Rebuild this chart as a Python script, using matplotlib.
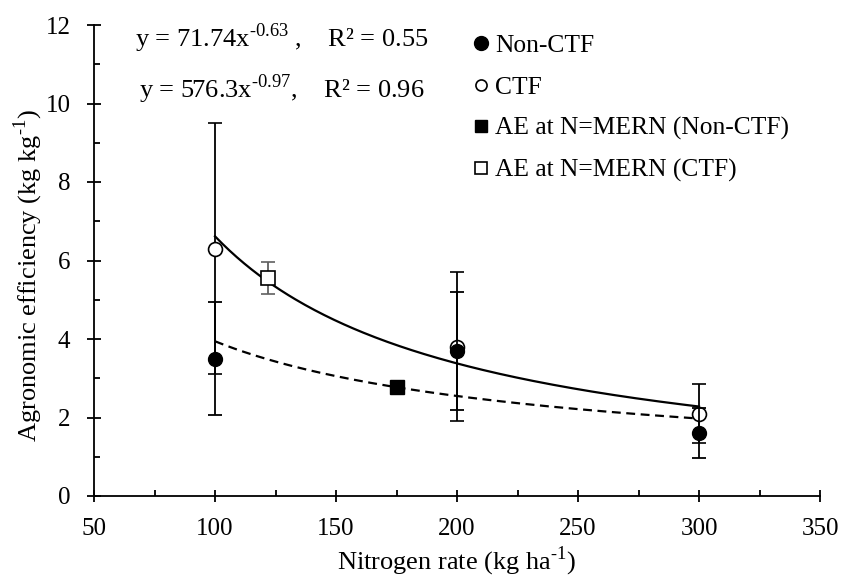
import numpy as np
import matplotlib
matplotlib.use("Agg")
import matplotlib.pyplot as plt
from matplotlib.lines import Line2D

plt.rcParams['font.family'] = ['Liberation Serif', 'DejaVu Serif']
plt.rcParams['mathtext.fontset'] = 'custom'
plt.rcParams['mathtext.rm'] = 'Liberation Serif'

# Data
n_rates = [100, 200, 300]
noncfg_ae = [3.5, 3.7, 1.6]
noncfg_err = [1.43, 1.5, 0.63]
ctf_ae = [6.3, 3.8, 2.1]
ctf_err = [3.2, 1.9, 0.75]
mern_noncfg_x = [175]
mern_noncfg_y = [2.78]
mern_ctf_x = [122]
mern_ctf_y = [5.55]
mern_ctf_err = [0.4]

# Power fit coefficients y = a * x^b
fit_noncfg = (71.74, -0.63)
fit_ctf = (576.3, -0.97)

H = '\u2010'  # hyphen used in superscripts

fig = plt.figure(figsize=(8.42, 5.79), dpi=100)
ax = fig.add_axes([94/842, 1-496/579, (820-94)/842, (496-25)/579])

xs = np.linspace(100, 300, 200)
ax.plot(xs, fit_ctf[0]*xs**fit_ctf[1], color='black', lw=1.6, zorder=2)
ax.plot(xs, fit_noncfg[0]*xs**fit_noncfg[1], color='black', lw=1.6,
        ls=(0, (4, 2.5)), zorder=2)

ax.errorbar(n_rates, ctf_ae, yerr=ctf_err, fmt='o', mfc='white', mec='black',
            mew=1.2, ms=10, ecolor='black', elinewidth=1.3, capsize=5,
            capthick=1.3, zorder=3)
ax.errorbar(n_rates, noncfg_ae, yerr=noncfg_err, fmt='o', mfc='black', mec='black',
            ms=10, ecolor='black', elinewidth=1.3, capsize=5, capthick=1.3, zorder=4)
ax.errorbar(mern_ctf_x, mern_ctf_y, yerr=mern_ctf_err, fmt='s', mfc='white',
            mec='black', mew=1.2, ms=10, ecolor='#606060', elinewidth=1.3,
            capsize=5, capthick=1.3, zorder=5)
ax.plot(mern_noncfg_x, mern_noncfg_y, 's', color='black', ms=9.5, zorder=5)

ax.set_xlim(50, 350)
ax.set_ylim(0, 12)
ax.set_xticks(np.arange(50, 351, 50))
ax.set_yticks(np.arange(0, 13, 2))
ax.set_xticks(np.arange(75, 350, 50), minor=True)
ax.set_yticks(np.arange(1, 12, 2), minor=True)
for s in ['top', 'right']:
    ax.spines[s].set_visible(False)
for s in ['left', 'bottom']:
    ax.spines[s].set_linewidth(1.3)
ax.tick_params(axis='x', which='major', direction='inout', length=8, width=1.3,
               labelsize=18, pad=12)
ax.tick_params(axis='y', which='major', direction='inout', length=10, width=1.3,
               labelsize=18, pad=12)
ax.tick_params(which='minor', direction='in', length=4.5, width=1.3)

ax.set_xlabel('Nitrogen rate (kg ha$^{\\mathregular{' + H + '1}}$)', fontsize=19, labelpad=3)
ax.set_ylabel('Agronomic efficiency (kg kg$^{\\mathregular{' + H + '1}}$)', fontsize=19, labelpad=0)
ax.yaxis.label.set_y(0.467)

ax.text(0.0565, 0.953, 'y = 71.74x$^{\\mathregular{' + H + '0.63}}$ ,    R² = 0.55',
        transform=ax.transAxes, fontsize=19, va='baseline', ha='left')
ax.text(0.062, 0.845, 'y = 576.3x$^{\\mathregular{' + H + '0.97}}$,    R² = 0.96',
        transform=ax.transAxes, fontsize=19, va='baseline', ha='left')

handles = [
    Line2D([], [], ls='none', marker='o', mfc='black', mec='black', ms=10),
    Line2D([], [], ls='none', marker='o', mfc='white', mec='black', mew=1.2, ms=8),
    Line2D([], [], ls='none', marker='s', mfc='black', mec='black', ms=9),
    Line2D([], [], ls='none', marker='s', mfc='white', mec='black', mew=1.2, ms=9),
]
labels = ['Non-CTF', 'CTF', 'AE at N=MERN (Non-CTF)', 'AE at N=MERN (CTF)']
ax.legend(handles, labels, loc='upper left', bbox_to_anchor=(0.523, 0.98),
          frameon=False, fontsize=18.4, handlelength=0.6, handletextpad=0.25,
          labelspacing=0.72, borderaxespad=0, borderpad=0)

fig.savefig('out.png', dpi=100)
